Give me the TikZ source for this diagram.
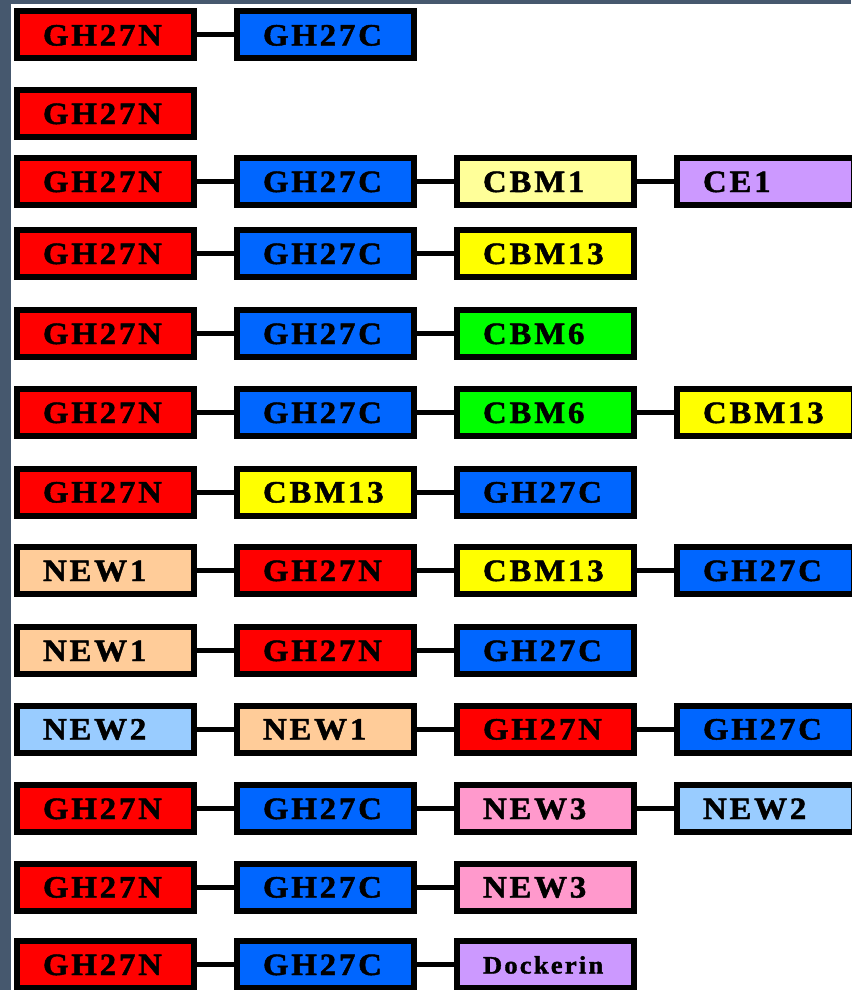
\documentclass[tikz,border=0pt]{standalone}
\usepackage{fontspec}
\newfontfamily\domfont{Liberation Serif}[FakeStretch=1.06, LetterSpace=9, FakeBold=1.5]

\definecolor{frame}{RGB}{70,88,110}
\definecolor{gh27n}{RGB}{255,0,0}
\definecolor{gh27c}{RGB}{0,102,255}
\definecolor{cbmone}{RGB}{255,255,153}
\definecolor{cbmsix}{RGB}{0,255,0}
\definecolor{cbmthirteen}{RGB}{255,255,0}
\definecolor{ceone}{RGB}{204,153,255}
\definecolor{newone}{RGB}{255,204,153}
\definecolor{newtwo}{RGB}{153,204,255}
\definecolor{newthree}{RGB}{255,153,204}

\tikzset{
  dom/.style={draw, line width=6pt, minimum width=177pt, minimum height=47pt,
    text width=125pt, align=left, inner xsep=26pt, inner ysep=0pt,
    text height=21pt, text depth=0pt,
    font=\domfont\bfseries\fontsize{31}{33}\selectfont},
  link/.style={line width=5pt},
  GH27N/.style={fill=gh27n},
  GH27C/.style={fill=gh27c},
  CBM1/.style={fill=cbmone},
  CBM6/.style={fill=cbmsix},
  CBM13/.style={fill=cbmthirteen},
  CE1/.style={fill=ceone},
  NEW1/.style={fill=newone},
  NEW2/.style={fill=newtwo},
  NEW3/.style={fill=newthree},
  Dockerin/.style={fill=ceone, text height=18pt,
    font=\domfont\bfseries\fontsize{25}{27}\selectfont},
}

\begin{document}
\begin{tikzpicture}[x=1pt, y=-1pt]
\useasboundingbox (0,0) rectangle (851,990);
\fill[frame] (0,0) rectangle (11,990);
\fill[frame] (0,0) rectangle (851,4);

\foreach \ypos/\doms [count=\row] in {
    35/{GH27N,GH27C},
    113.5/{GH27N},
    181.5/{GH27N,GH27C,CBM1,CE1},
    253.5/{GH27N,GH27C,CBM13},
    333.5/{GH27N,GH27C,CBM6},
    412.5/{GH27N,GH27C,CBM6,CBM13},
    492/{GH27N,CBM13,GH27C},
    570.5/{NEW1,GH27N,CBM13,GH27C},
    650.5/{NEW1,GH27N,GH27C},
    729/{NEW2,NEW1,GH27N,GH27C},
    808.5/{GH27N,GH27C,NEW3,NEW2},
    887/{GH27N,GH27C,NEW3},
    964.5/{GH27N,GH27C,Dockerin}}
{
  \foreach \dom [count=\col, remember=\col as \prev (initially 0)] in \doms {
    \node[dom, style/.expanded=\dom] (r\row-\col) at ({105.5+220*(\col-1)}, \ypos) {\dom};
    \ifnum\col>1 \draw[link] (r\row-\prev) -- (r\row-\col); \fi
  }
}
\end{tikzpicture}
\end{document}
